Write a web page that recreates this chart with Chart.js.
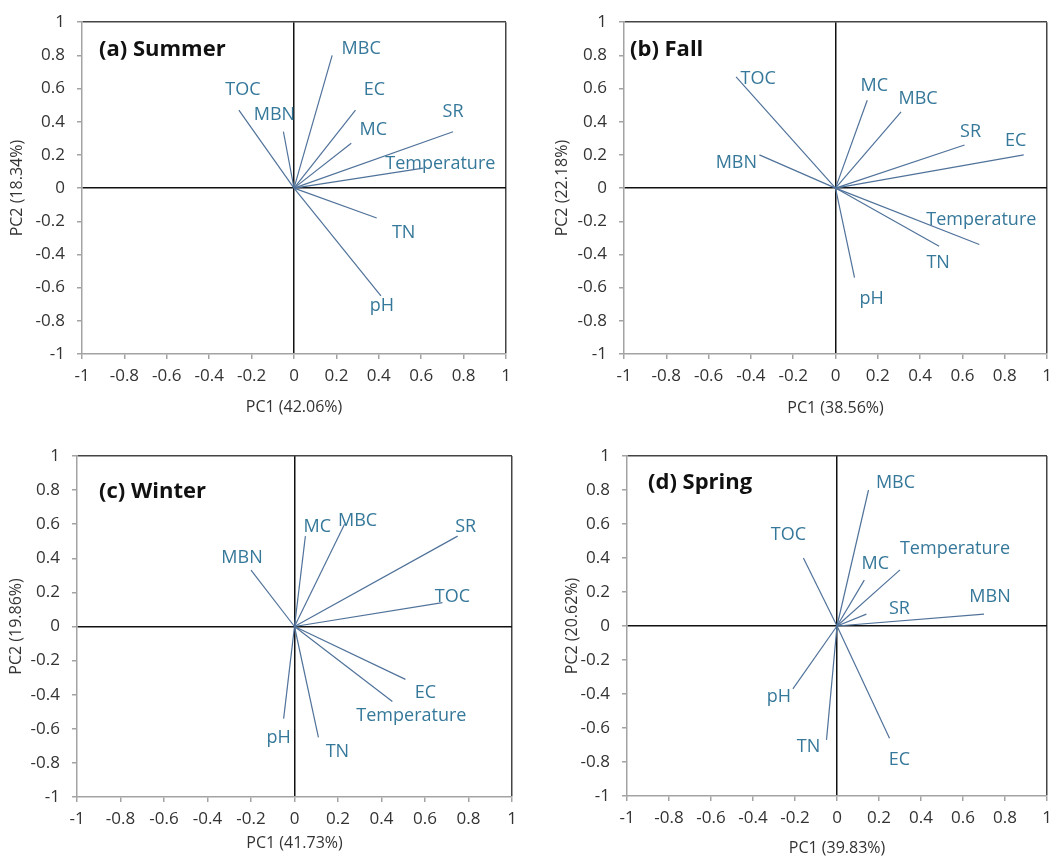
<!DOCTYPE html>
<html>
<head>
<meta charset="utf-8">
<script src="https://cdn.jsdelivr.net/npm/chart.js@4"></script>
<style>
  body { margin: 0; background: #fff; }
  #wrap { position: relative; width: 1060px; height: 860px; }
  canvas { position: absolute; }
</style>
</head>
<body>
<div id="wrap"></div>
<script>
// variables in the same order for every season
const vars = ['TOC', 'MBN', 'MBC', 'EC', 'MC', 'SR', 'Temperature', 'TN', 'pH'];

const summerPC1 = [-0.26, -0.05, 0.18, 0.29, 0.27, 0.75, 0.61, 0.39, 0.41];
const summerPC2 = [0.47, 0.34, 0.80, 0.47, 0.27, 0.34, 0.12, -0.18, -0.65];

const fallPC1 = [-0.47, -0.36, 0.31, 0.89, 0.15, 0.61, 0.68, 0.49, 0.09];
const fallPC2 = [0.67, 0.20, 0.46, 0.20, 0.53, 0.26, -0.34, -0.35, -0.54];

const winterPC1 = [0.68, -0.20, 0.23, 0.51, 0.05, 0.75, 0.45, 0.11, -0.05];
const winterPC2 = [0.14, 0.33, 0.60, -0.31, 0.53, 0.53, -0.44, -0.65, -0.54];

const springPC1 = [-0.16, 0.70, 0.15, 0.25, 0.13, 0.14, 0.30, -0.05, -0.21];
const springPC2 = [0.40, 0.07, 0.80, -0.66, 0.27, 0.07, 0.33, -0.67, -0.37];

const axisTicks = [-1, -0.8, -0.6, -0.4, -0.2, 0, 0.2, 0.4, 0.6, 0.8, 1];

// where each label sits relative to its arrow tip (px)
const summerLabelOff = [[4,-20],[-9,-17],[29,-7],[19,-20],[22,-13],[0,-20],[17,-4],[27,15],[1,10]];
const fallLabelOff   = [[22,2],[-23,8],[17,-13],[-8,-14],[7,-14],[6,-13],[2,-25],[-1,17],[17,21]];
const winterLabelOff = [[10,-6],[-9,-12],[13,-3],[20,14],[12,-9],[8,-9],[19,14],[19,15],[-5,19]];
const springLabelOff = [[-15,-23],[6,-17],[27,-7],[10,22],[11,-16],[33,-5],[55,-21],[-18,7],[-14,8]];

const panels = [
  { title: '(a) Summer', pc1: summerPC1, pc2: summerPC2, off: summerLabelOff,
    xTitle: 'PC1 (42.06%)', yTitle: 'PC2 (18.34%)',
    pos: [0, 0], area: { l: 82, r: 506, t: 16, b: 354 }, yPad: 8, xPad: 13, titleAt: [99, 50] },
  { title: '(b) Fall', pc1: fallPC1, pc2: fallPC2, off: fallLabelOff,
    xTitle: 'PC1 (38.56%)', yTitle: 'PC2 (22.18%)',
    pos: [530, 0], area: { l: 94, r: 517, t: 15, b: 354 }, yPad: 23, xPad: 12, titleAt: [100, 50] },
  { title: '(c) Winter', pc1: winterPC1, pc2: winterPC2, off: winterLabelOff,
    xTitle: 'PC1 (41.73%)', yTitle: 'PC2 (19.86%)',
    pos: [0, 430], area: { l: 77, r: 512, t: 26, b: 367 }, yPad: 7, xPad: 7, titleAt: [99, 62] },
  { title: '(d) Spring', pc1: springPC1, pc2: springPC2, off: springLabelOff,
    xTitle: 'PC1 (39.83%)', yTitle: 'PC2 (20.62%)',
    pos: [530, 430], area: { l: 97, r: 517, t: 26, b: 366 }, yPad: 33, xPad: 2, titleAt: [118, 53] }
];

const FONT = '"Open Sans", "Liberation Sans", sans-serif';
const lineColor = '#50729a';
const labelColor = '#36789a';
const textColor = '#333';
const axisGray = '#a3a3a3';

const fmt = v => String(Math.round(v * 10) / 10);

function gridColor(ctx) {
  const v = ctx.tick.value;
  if (Math.abs(v) < 1e-9) return '#111';
  if (Math.abs(v - 1) < 1e-9) return '#444';
  return 'rgba(0,0,0,0)';
}

const vectorLabels = {
  id: 'vectorLabels',
  afterDatasetsDraw(chart, args, opts) {
    const { ctx, scales: { x, y } } = chart;
    ctx.save();
    ctx.font = '18px ' + FONT;
    ctx.fillStyle = labelColor;
    ctx.textAlign = 'center';
    ctx.textBaseline = 'middle';
    vars.forEach((name, i) => {
      const px = x.getPixelForValue(opts.pc1[i]) + opts.off[i][0];
      const py = y.getPixelForValue(opts.pc2[i]) + opts.off[i][1];
      ctx.fillText(name, px, py);
    });
    ctx.font = 'bold 22px ' + FONT;
    ctx.fillStyle = '#111';
    ctx.textAlign = 'left';
    ctx.fillText(opts.title, opts.titleAt[0], opts.titleAt[1]);
    ctx.restore();
  }
};

const wrap = document.getElementById('wrap');

panels.forEach(p => {
  const canvas = document.createElement('canvas');
  canvas.width = 530;
  canvas.height = 430;
  canvas.style.left = p.pos[0] + 'px';
  canvas.style.top = p.pos[1] + 'px';
  wrap.appendChild(canvas);

  const datasets = vars.map((v, i) => ({
    label: v,
    data: [{ x: 0, y: 0 }, { x: p.pc1[i], y: p.pc2[i] }],
    showLine: true,
    borderColor: lineColor,
    borderWidth: 1.2,
    pointRadius: 0,
    fill: false
  }));

  const tickFont = { family: FONT, size: 17 };
  const titleFont = { family: FONT, size: 16 };

  new Chart(canvas.getContext('2d'), {
    type: 'scatter',
    data: { datasets },
    options: {
      responsive: false,
      animation: false,
      devicePixelRatio: 1,
      layout: { padding: { left: 0, top: p.area.t, right: 530 - p.area.r, bottom: 0 } },
      plugins: {
        legend: { display: false },
        tooltip: { enabled: false },
        vectorLabels: { pc1: p.pc1, pc2: p.pc2, off: p.off, title: p.title, titleAt: p.titleAt }
      },
      scales: {
        x: {
          type: 'linear', min: -1, max: 1,
          afterBuildTicks: s => { s.ticks = axisTicks.map(v => ({ value: v })); },
          ticks: { callback: fmt, padding: 7, font: tickFont, color: textColor, maxRotation: 0, autoSkip: false },
          grid: { color: gridColor, lineWidth: 1.5, tickColor: axisGray, tickLength: 5, tickWidth: 1.5 },
          border: { color: axisGray, width: 1.5 },
          title: { display: true, text: p.xTitle, font: titleFont, color: textColor, padding: { top: 0, bottom: p.xPad } },
          afterFit: s => { s.height = 430 - p.area.b; }
        },
        y: {
          type: 'linear', min: -1, max: 1,
          afterBuildTicks: s => { s.ticks = axisTicks.map(v => ({ value: v })); },
          ticks: { callback: fmt, padding: 12, font: tickFont, color: textColor, autoSkip: false },
          grid: { color: gridColor, lineWidth: 1.5, tickColor: axisGray, tickLength: 5, tickWidth: 1.5 },
          border: { color: axisGray, width: 1.5 },
          title: { display: true, text: p.yTitle, font: titleFont, color: textColor, padding: { top: p.yPad, bottom: 0 } },
          afterFit: s => { s.width = p.area.l; }
        }
      }
    },
    plugins: [vectorLabels]
  });
});
</script>
</body>
</html>
